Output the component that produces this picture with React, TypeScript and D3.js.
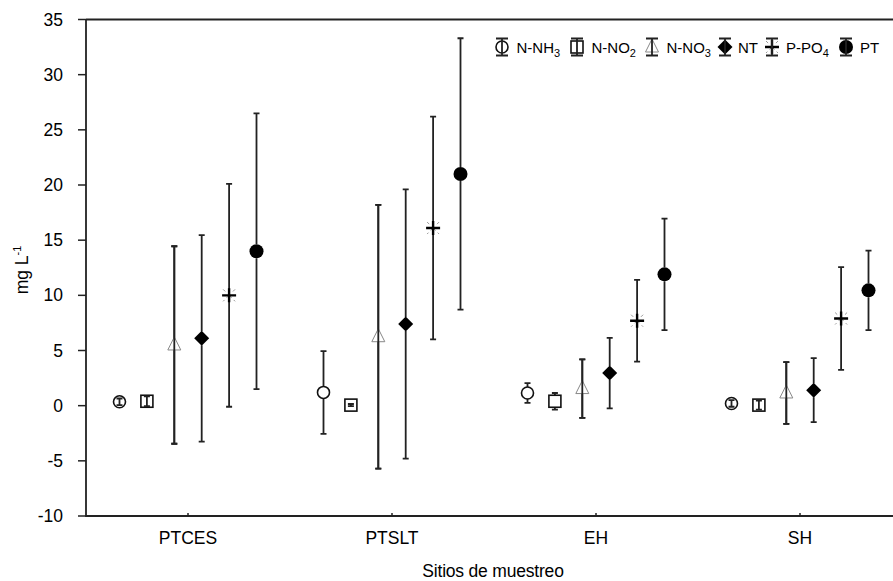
import React from "react";
import * as d3 from "d3";

const categories = ["PTCES", "PTSLT", "EH", "SH"];
const seriesNames = ["N-NH3", "N-NO2", "N-NO3", "NT", "P-PO4", "PT"];
const nnh3Mean = [0.35, 1.2, 1.15, 0.2];
const nnh3Err = [0.3, 3.75, 0.9, 0.3];
const nno2Mean = [0.4, 0.05, 0.4, 0.05];
const nno2Err = [0.45, 0.1, 0.75, 0.4];
const nno3Mean = [5.5, 6.25, 1.55, 1.15];
const nno3Err = [8.95, 11.95, 2.65, 2.8];
const ntMean = [6.1, 7.4, 2.95, 1.4];
const ntErr = [9.35, 12.2, 3.2, 2.9];
const ppo4Mean = [10.0, 16.1, 7.7, 7.9];
const ppo4Err = [10.1, 10.1, 3.7, 4.65];
const ptMean = [14.0, 21.0, 11.9, 10.45];
const ptErr = [12.5, 12.3, 5.05, 3.6];
const yTicks = [-10, -5, 0, 5, 10, 15, 20, 25, 30, 35];

const means = [nnh3Mean, nno2Mean, nno3Mean, ntMean, ppo4Mean, ptMean];
const errs = [nnh3Err, nno2Err, nno3Err, ntErr, ppo4Err, ptErr];

const W = 893, H = 581;
const L = 86, T = 19.5, B = 516, R = 905;
const FONT = "'Liberation Sans', Arial, sans-serif";
const AX_FS = 17.5;
const LG_FS = 15;

const y = d3.scaleLinear().domain([-10, 35]).range([B, T]);
const x = d3.scalePoint<string>().domain(categories).range([188, 800]);
const off = d3.scaleLinear().domain([0, 5]).range([-68.5, 68.5]);

// marker half-size per series (for whisker gaps)
const gap = [6, 6, 0, 7, 0, 7];

function Marker({ kind, cx, cy }: { kind: number; cx: number; cy: number }) {
  switch (kind) {
    case 0:
      return <circle cx={cx} cy={cy} r={6} fill="white" stroke="#111" strokeWidth={1.6} />;
    case 1:
      return <rect x={cx - 6} y={cy - 6} width={12} height={12} fill="white" stroke="#111" strokeWidth={1.6} />;
    case 2:
      return <path d={`M${cx},${cy - 8}L${cx + 6.5},${cy + 5}L${cx - 6.5},${cy + 5}Z`} fill="white" stroke="#888" strokeWidth={1} />;
    case 3:
      return <path d={`M${cx},${cy - 7.5}L${cx + 7.5},${cy}L${cx},${cy + 7.5}L${cx - 7.5},${cy}Z`} fill="#000" />;
    case 4:
      return (
        <g>
          <path d={`M${cx - 6},${cy - 6}L${cx + 6},${cy + 6}M${cx + 6},${cy - 6}L${cx - 6},${cy + 6}`} stroke="#999" strokeWidth={1} strokeDasharray="3 6 3" />
          <path d={`M${cx - 7},${cy}L${cx + 7},${cy}M${cx},${cy - 7}L${cx},${cy + 7}`} stroke="#000" strokeWidth={2.4} />
        </g>
      );
    default:
      return <circle cx={cx} cy={cy} r={7} fill="#000" />;
  }
}

function ErrBar({ cx, cy, top, bot, g, cap = 3 }: { cx: number; cy: number; top: number; bot: number; g: number; cap?: number }) {
  const parts: string[] = [];
  if (g > 0 && cy - top > g && bot - cy > g) {
    parts.push(`M${cx},${top}L${cx},${cy - g}`, `M${cx},${cy + g}L${cx},${bot}`);
  } else {
    parts.push(`M${cx},${top}L${cx},${bot}`);
  }
  parts.push(`M${cx - cap},${top}L${cx + cap},${top}`, `M${cx - cap},${bot}L${cx + cap},${bot}`);
  return <path d={parts.join("")} stroke="#222" strokeWidth={1.8} fill="none" />;
}

function SubLabel({ x0, y0, text }: { x0: number; y0: number; text: string }) {
  const m = text.match(/^(.*?)(\d)$/);
  if (!m) return <text x={x0} y={y0} fontSize={LG_FS} fontFamily={FONT}>{text}</text>;
  return (
    <text x={x0} y={y0} fontSize={LG_FS} fontFamily={FONT}>
      {m[1]}
      <tspan fontSize={11} dy={4}>{m[2]}</tspan>
    </text>
  );
}

export default function App() {
  const legendSym = [502, 577, 652, 725, 772, 846];
  const legendTxt = [516.5, 591.5, 666.5, 738, 786, 860];
  const ly = 47;
  return (
    <svg width={W} height={H} style={{ position: "absolute", left: 0, top: 0, background: "white" }}>
      {/* frame */}
      <path d={`M${L},${T}L${R},${T}M${L},${T}L${L},${B}L${R},${B}`} stroke="#222" strokeWidth={1.8} fill="none" />
      {/* y ticks */}
      {yTicks.map((t) => (
        <g key={t}>
          <line x1={L - 8} x2={L} y1={y(t)} y2={y(t)} stroke="#222" strokeWidth={1.5} />
          <text x={63} y={y(t) + 6} textAnchor="end" fontSize={AX_FS} fontFamily={FONT}>{t}</text>
        </g>
      ))}
      {/* x ticks */}
      {categories.map((c) => (
        <g key={c}>
          <line x1={x(c)} x2={x(c)} y1={B} y2={B - 3} stroke="#222" strokeWidth={1.5} />
          <text x={x(c)} y={543.5} textAnchor="middle" fontSize={AX_FS} fontFamily={FONT}>{c}</text>
        </g>
      ))}
      <text x={493} y={577} textAnchor="middle" fontSize={AX_FS} fontFamily={FONT} letterSpacing={-0.2}>Sitios de muestreo</text>
      <text transform={`translate(28,270) rotate(-90)`} textAnchor="middle" fontSize={AX_FS} fontFamily={FONT}>
        mg L<tspan fontSize={11} dy={-7}>-1</tspan>
      </text>
      {/* data */}
      {seriesNames.map((s, si) =>
        categories.map((c, ci) => {
          const cx = (x(c) as number) + off(si);
          const cy = y(means[si][ci]);
          const top = y(means[si][ci] + errs[si][ci]);
          const bot = y(means[si][ci] - errs[si][ci]);
          const big = cy - top > gap[si] + 1;
          return (
            <g key={s + c}>
              {big ? (
                <>
                  <ErrBar cx={cx} cy={cy} top={top} bot={bot} g={gap[si]} />
                  <Marker kind={si} cx={cx} cy={cy} />
                  {si === 2 ? <ErrBar cx={cx} cy={cy} top={top} bot={bot} g={0} /> : null}
                </>
              ) : (
                <>
                  <Marker kind={si} cx={cx} cy={cy} />
                  <ErrBar cx={cx} cy={cy} top={top} bot={bot} g={0} />
                </>
              )}
            </g>
          );
        })
      )}
      {/* legend */}
      {seriesNames.map((s, si) => (
        <g key={"lg" + s}>
          <Marker kind={si} cx={legendSym[si]} cy={ly} />
          <ErrBar cx={legendSym[si]} cy={ly} top={ly - 8.5} bot={ly + 8.5} g={0} cap={6} />
          <SubLabel x0={legendTxt[si]} y0={ly + 5.5} text={s} />
        </g>
      ))}
    </svg>
  );
}
